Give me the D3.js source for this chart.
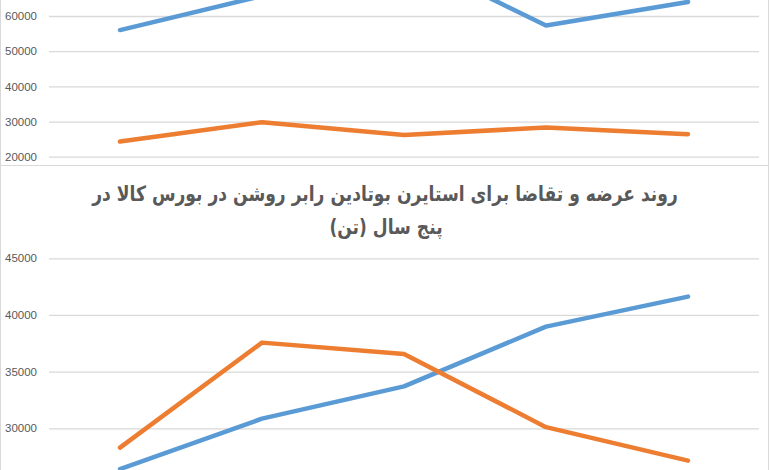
<!DOCTYPE html>
<html><head><meta charset="utf-8">
<script src="https://cdn.jsdelivr.net/npm/d3@7"></script>
<style>html,body{margin:0;padding:0;background:#fff;overflow:hidden}</style>
</head><body><svg id="c" width="770" height="470"></svg>
<script>
const categories = ["1394","1395","1396","1397","1398"];
// Top chart (cropped at top)
const topTicks = [20000, 30000, 40000, 50000, 60000];
const topSupply = [56000, 65700, 77000, 57300, 64000];
const topDemand = [24300, 29800, 26200, 28300, 26400];
// Bottom chart (cropped at bottom)
const titleLines = ["روند عرضه و تقاضا برای استایرن بوتادین رابر روشن در بورس کالا در", "پنج سال (تن)"];
const botTicks = [30000, 35000, 40000, 45000];
const botSupply = [26400, 30850, 33700, 38970, 41620];
const botDemand = [28300, 37560, 36560, 30100, 27150];

const svg = d3.select("#c");
const blue = "#5B9BD5", orange = "#ED7D31", grid = "#D9D9D9", txt = "#595959";
const x = d3.scalePoint().domain(categories).range([120, 688]);

function panel(y0, y1, ticks, yScale, series) {
  svg.append("rect").attr("x", 0.5).attr("y", y0).attr("width", 768).attr("height", y1 - y0)
    .attr("fill", "none").attr("stroke", grid).attr("stroke-width", 1);
  const g = svg.append("g");
  const ax = d3.axisLeft(yScale).tickValues(ticks).tickSize(-710).tickPadding(12).tickFormat(d3.format("d"));
  g.attr("transform", "translate(49,0)").call(ax);
  g.select(".domain").remove();
  g.selectAll(".tick line").attr("stroke", grid).attr("stroke-width", 1.3);
  g.selectAll(".tick text").attr("fill", txt).attr("font-family", "Liberation Sans, Arial, sans-serif").attr("font-size", 11.5);
  const line = d3.line().x((d, i) => x(categories[i])).y(d => yScale(d));
  series.forEach(s => {
    svg.append("path").datum(s.values).attr("d", line).attr("fill", "none")
      .attr("stroke", s.color).attr("stroke-width", 4.5).attr("stroke-linejoin", "round").attr("stroke-linecap", "round");
  });
}

const yTop = d3.scaleLinear().domain([20000, 60000]).range([156.7, 16]);
panel(-20, 165.5, topTicks, yTop, [{values: topSupply, color: blue}, {values: topDemand, color: orange}]);

const yBot = d3.scaleLinear().domain([30000, 45000]).range([428.3, 258.3]);
panel(165.5, 500, botTicks, yBot, [{values: botSupply, color: blue}, {values: botDemand, color: orange}]);

const fs = 21;
function titleLine(str, cx, cy, sx) {
  const g = svg.append("g");
  const t = g.append("text").attr("x", 0).attr("y", 0).attr("text-anchor", "middle").attr("direction", "rtl")
    .attr("font-family", "DejaVu Sans, sans-serif").attr("font-weight", "bold").attr("font-size", fs).attr("fill", txt).text(str);
  const w = t.node().getComputedTextLength();
  const s = sx || 586 / w;
  g.attr("transform", `translate(${cx},${cy}) scale(${s},1)`);
  return s;
}
const s1 = titleLine(titleLines[0], 385, 201);
titleLine(titleLines[1], 386, 234, s1);
</script></body></html>
